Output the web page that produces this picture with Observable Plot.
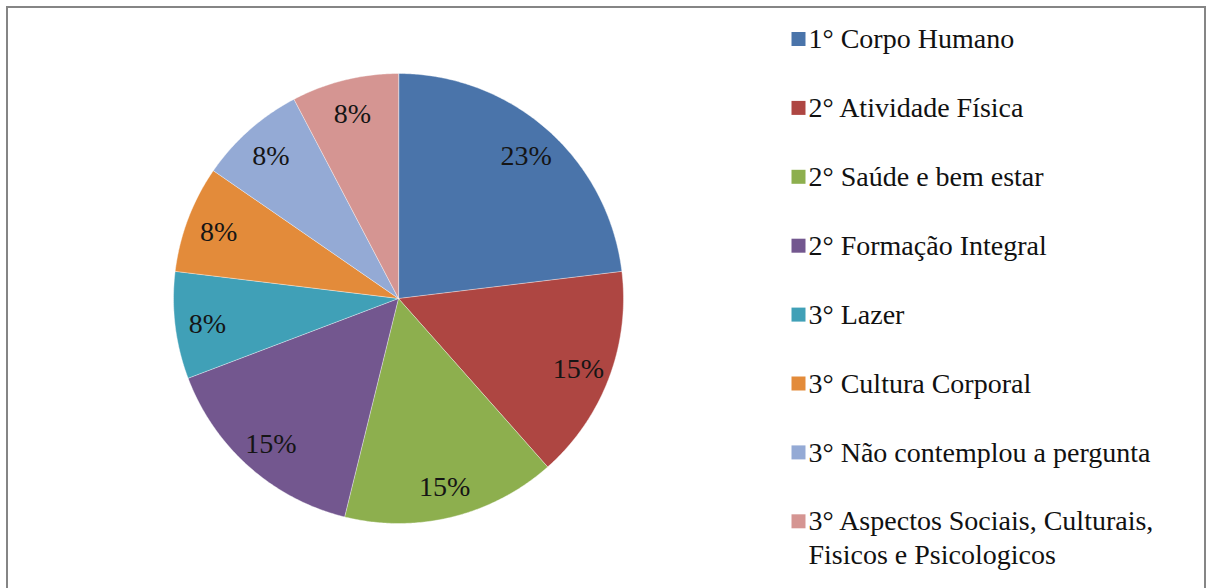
<!DOCTYPE html>
<html>
<head>
<meta charset="utf-8">
<script src="https://cdn.jsdelivr.net/npm/d3@7"></script>
<script src="https://cdn.jsdelivr.net/npm/@observablehq/plot@0.6"></script>
<style>
  body { margin: 0; padding: 0; background: #fff; }
  #page { position: relative; width: 1208px; height: 588px; }
  #frame { position: absolute; left: 6px; top: 6px; width: 1196px; height: 582px; border-left: 2px solid #858585; border-top: 2px solid #858585; border-right: 2px solid #858585; }
  #chart { position: absolute; left: 0; top: 0; }
  #legend { position: absolute; left: 788px; top: 0; }
</style>
</head>
<body>
<div id="page">
  <div id="frame"></div>
  <div id="chart"></div>
  <div id="legend"></div>
</div>
<script>
const categories = [
  "1° Corpo Humano",
  "2° Atividade Física",
  "2° Saúde e bem estar",
  "2° Formação Integral",
  "3° Lazer",
  "3° Cultura Corporal",
  "3° Não contemplou a pergunta",
  "3° Aspectos Sociais, Culturais, Fisicos e Psicologicos"
];
const counts = [3, 2, 2, 2, 1, 1, 1, 1];
const colors = ["#4A74AA", "#AE4642", "#8DAF4E", "#73578F", "#40A0B7", "#E38B3A", "#94AAD5", "#D59592"];

const FONT = "'Times New Roman', Tinos, 'Liberation Serif', serif";
const total = d3.sum(counts);
const rows = categories.map((c, i) => ({category: c, count: counts[i], label: Math.round(counts[i] / total * 100) + "%"}));
const arcs = d3.pie().sort(null).value(d => d.count)(rows);

const pt = (a, r) => [r * Math.sin(a), -r * Math.cos(a)];
const features = arcs.map(a => {
  const n = Math.max(2, Math.ceil((a.endAngle - a.startAngle) / (Math.PI / 360)));
  const ring = [[0, 0]];
  for (let k = 0; k <= n; k++) ring.push(pt(a.startAngle + (a.endAngle - a.startAngle) * k / n, 1));
  ring.push([0, 0]);
  return {type: "Feature", properties: {category: a.data.category}, geometry: {type: "Polygon", coordinates: [ring]}};
});
const labels = arcs.map(a => {
  const [lx, ly] = pt((a.startAngle + a.endAngle) / 2, 0.855);
  return {lx, ly, label: a.data.label};
});

const chart = Plot.plot({
  width: 796,
  height: 588,
  marginTop: 73,
  marginBottom: 65,
  marginLeft: 173,
  marginRight: 173,
  style: {fontFamily: FONT},
  projection: {type: "identity", domain: {type: "MultiPoint", coordinates: [[-1, -1], [1, 1]]}},
  color: {domain: categories, range: colors},
  marks: [
    Plot.geo(features, {fill: d => d.properties.category, stroke: "#ffffff", strokeWidth: 0.6, strokeOpacity: 0.7}),
    Plot.text(labels, {x: "lx", y: "ly", dy: 2, text: "label", fontSize: 28, fontFamily: FONT, fill: "#151515"})
  ]
});
document.getElementById("chart").appendChild(chart);

// wrap legend labels to the available width (layout only)
const ctx = document.createElement("canvas").getContext("2d");
ctx.font = "28px " + FONT;
const wrap = (s, max) => {
  const words = s.split(" ");
  const lines = [];
  let cur = "";
  for (const w of words) {
    const t = cur ? cur + " " + w : w;
    if (cur && ctx.measureText(t).width > max) { lines.push(cur); cur = w; } else cur = t;
  }
  lines.push(cur);
  return lines.join("\n");
};

const colorScale = chart.scale("color");
const legendRows = colorScale.domain.map((c, i) => ({i, category: c, text: wrap(c, 390)}));
const legend = Plot.plot({
  width: 420,
  height: 588,
  margin: 0,
  style: {fontFamily: FONT},
  x: {domain: [0, 1], range: [10, 400], axis: null},
  y: {domain: [0, legendRows.length - 1], range: [38.5, 38.5 + 7 * 68.9], axis: null},
  color: {domain: colorScale.domain, range: colorScale.range},
  marks: [
    Plot.dot(legendRows, {x: () => 0, y: "i", symbol: "square", r: 7.9, fill: "category", stroke: null}),
    Plot.text(legendRows, {x: () => 0, y: "i", dx: 10, dy: -15, text: "text", textAnchor: "start", lineAnchor: "top", lineHeight: 34 / 28, fontSize: 28, fontFamily: FONT, fill: "#111"})
  ]
});
document.getElementById("legend").appendChild(legend);
</script>
</body>
</html>
